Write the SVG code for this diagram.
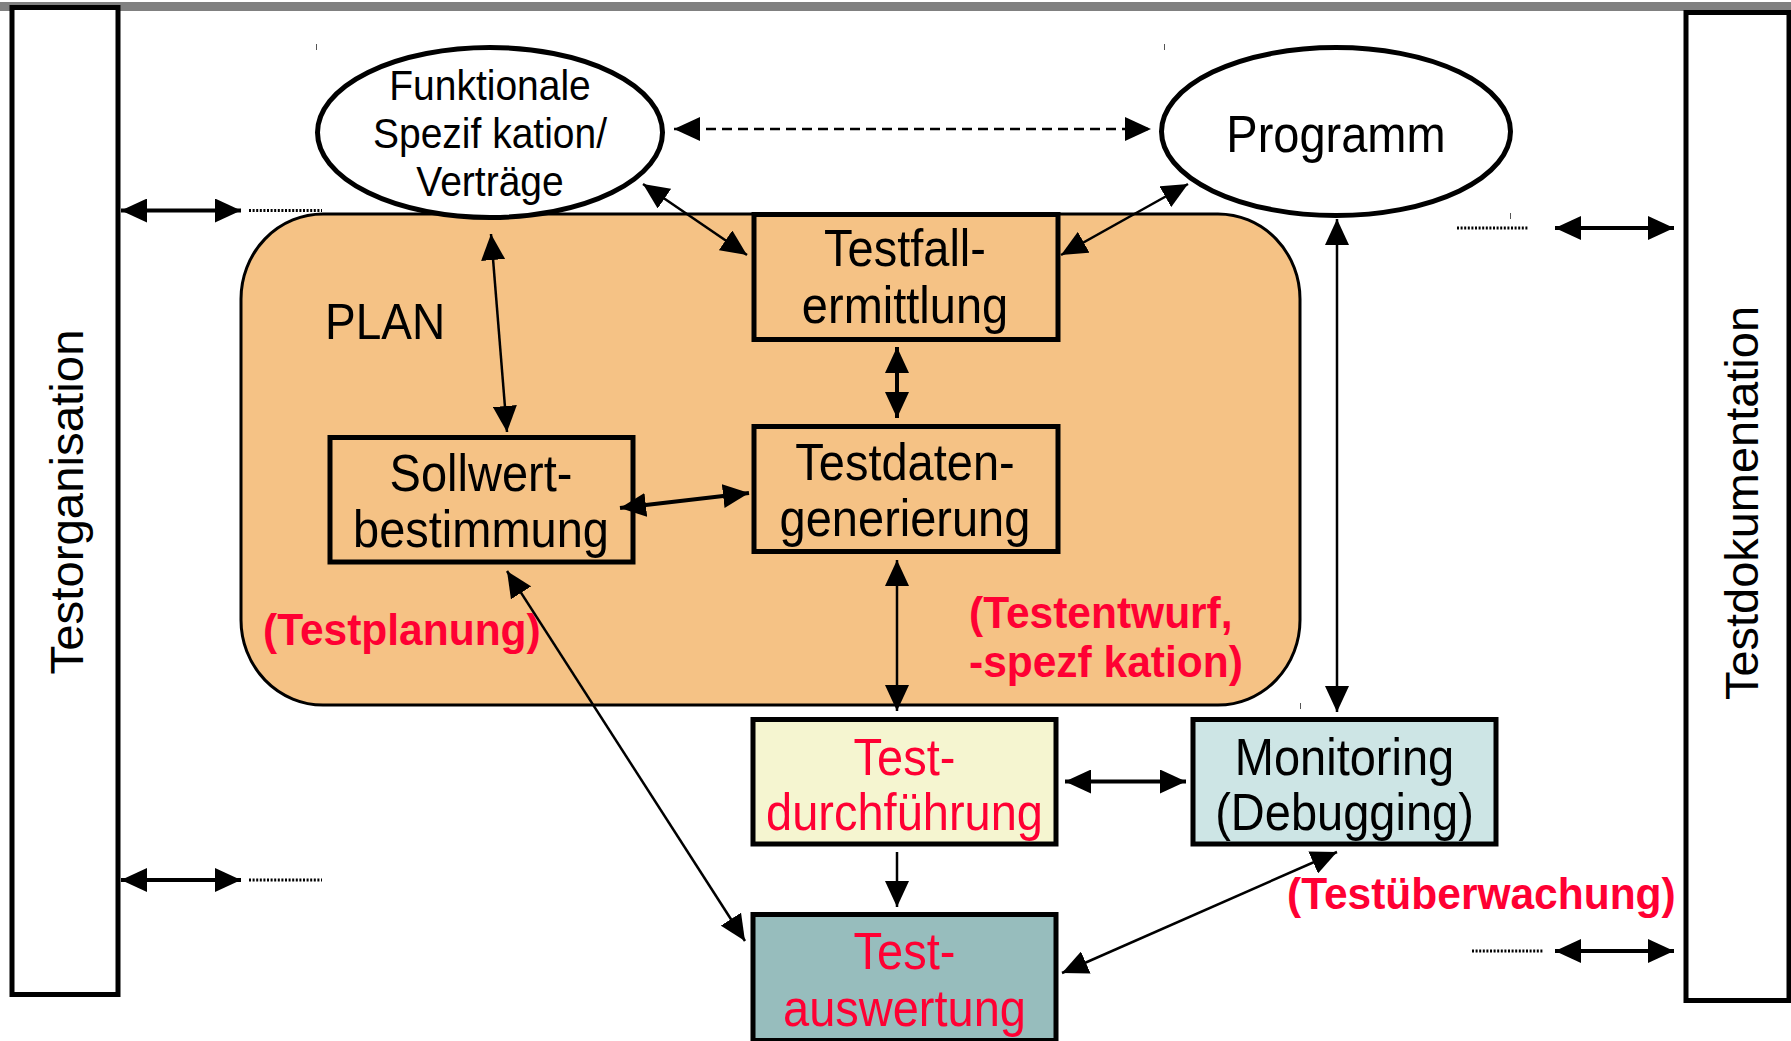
<svg xmlns="http://www.w3.org/2000/svg" width="1791" height="1041" viewBox="0 0 1791 1041">
  <style>
    text { font-family: "Liberation Sans", Arial, sans-serif; }
    .lbl { font-size: 47px; fill: #000; text-anchor: middle; }
    .ell { font-size: 39px; fill: #000; text-anchor: middle; }
    .red { fill: #FF0033; }
    .phase { font-size: 42.5px; font-weight: bold; fill: #FF0033; }
    .side { font-size: 46px; fill: #000; text-anchor: middle; }
    .box { stroke: #000; stroke-width: 5; }
    .conn { fill: none; stroke: #000; stroke-width: 2.5; }
    .thick { stroke-width: 4; }
    .dots { fill: none; stroke: #000; stroke-width: 3; stroke-dasharray: 2 1.6; }
  </style>
  <defs>
    <marker id="ah" viewBox="0 0 26 24" refX="26" refY="12" markerWidth="26" markerHeight="24" markerUnits="userSpaceOnUse" orient="auto-start-reverse">
      <path d="M0,0 L26,12 L0,24 z" fill="#000"/>
    </marker>
  </defs>

  <rect x="0" y="0" width="1791" height="1041" fill="#fff"/>
  <!-- top rule -->
  <rect x="0" y="2" width="1791" height="9" fill="#808080"/>

  <!-- side panels -->
  <g id="testorganisation">
    <rect class="box" x="12" y="7.5" width="106" height="987" fill="#fff"/>
    <text class="side" transform="translate(83,502) rotate(-90)" textLength="345" lengthAdjust="spacingAndGlyphs">Testorganisation</text>
  </g>
  <g id="testdokumentation">
    <rect class="box" x="1686" y="12.5" width="103" height="988" fill="#fff"/>
    <text class="side" transform="translate(1758,503) rotate(-90)" textLength="394" lengthAdjust="spacingAndGlyphs">Testdokumentation</text>
  </g>

  <!-- planning area -->
  <g id="plan">
    <rect x="241" y="214" width="1059" height="491" rx="82" ry="85" fill="#F5C285" stroke="#000" stroke-width="3"/>
    <text transform="translate(325,339) scale(1,1.1)" style="font-size:46px">PLAN</text>
  </g>

  <!-- inputs -->
  <g id="spezifikation">
    <ellipse cx="490" cy="132.5" rx="172.5" ry="85" fill="#fff" stroke="#000" stroke-width="5"/>
    <text class="ell" transform="translate(490,100) scale(1,1.1)">Funktionale</text>
    <text class="ell" transform="translate(490,148) scale(1,1.1)">Spezif kation/</text>
    <text class="ell" transform="translate(490,196) scale(1,1.1)">Verträge</text>
  </g>
  <g id="programm">
    <ellipse cx="1336" cy="131.5" rx="174.5" ry="84" fill="#fff" stroke="#000" stroke-width="5"/>
    <text class="lbl" transform="translate(1336,152) scale(1,1.1)">Programm</text>
  </g>

  <!-- activities -->
  <g id="testfallermittlung">
    <rect class="box" x="754" y="214.5" width="304" height="125" fill="none"/>
    <text class="lbl" transform="translate(905,266) scale(1,1.1)">Testfall-</text>
    <text class="lbl" transform="translate(905,323) scale(1,1.1)">ermittlung</text>
  </g>
  <g id="testdatengenerierung">
    <rect class="box" x="754" y="426.5" width="304" height="125" fill="none"/>
    <text class="lbl" transform="translate(905,480) scale(1,1.1)">Testdaten-</text>
    <text class="lbl" transform="translate(905,536) scale(1,1.1)">generierung</text>
  </g>
  <g id="sollwertbestimmung">
    <rect class="box" x="330" y="437.5" width="303" height="124.5" fill="none"/>
    <text class="lbl" transform="translate(481,491) scale(1,1.1)">Sollwert-</text>
    <text class="lbl" transform="translate(481,547) scale(1,1.1)">bestimmung</text>
  </g>
  <g id="testdurchfuehrung">
    <rect class="box" x="753" y="719.5" width="303" height="124.5" fill="#F5F5D0"/>
    <text class="lbl red" transform="translate(904.5,774.5) scale(1,1.1)">Test-</text>
    <text class="lbl red" transform="translate(904.5,830) scale(1,1.1)">durchführung</text>
  </g>
  <g id="monitoring">
    <rect class="box" x="1193" y="719.5" width="303" height="124.5" fill="#CDE5E5"/>
    <text class="lbl" transform="translate(1344.5,774.5) scale(1,1.1)">Monitoring</text>
    <text class="lbl" transform="translate(1344.5,830) scale(1,1.1)">(Debugging)</text>
  </g>
  <g id="testauswertung">
    <rect class="box" x="753" y="914.5" width="303" height="126" fill="#97BDBD"/>
    <text class="lbl red" transform="translate(904.5,968.5) scale(1,1.1)">Test-</text>
    <text class="lbl red" transform="translate(904.5,1025.5) scale(1,1.1)">auswertung</text>
  </g>

  <!-- phase labels -->
  <g id="phases">
    <text class="phase" transform="translate(263,645) scale(1,1.05)">(Testplanung)</text>
    <text class="phase" transform="translate(969,628) scale(1,1.05)">(Testentwurf,</text>
    <text class="phase" transform="translate(969,677) scale(1,1.05)">-spezf kation)</text>
    <text class="phase" transform="translate(1287,909) scale(1,1.05)">(Testüberwachung)</text>
  </g>

  <!-- connectors -->
  <g id="connectors">
    <line class="conn" x1="674" y1="129" x2="1151" y2="129" stroke-dasharray="10 6" marker-start="url(#ah)" marker-end="url(#ah)"/>
    <line class="conn" x1="491" y1="234" x2="507" y2="432" marker-start="url(#ah)" marker-end="url(#ah)"/>
    <line class="conn" x1="643" y1="184" x2="747" y2="255" marker-start="url(#ah)" marker-end="url(#ah)"/>
    <line class="conn" x1="1188" y1="184" x2="1061" y2="255" marker-start="url(#ah)" marker-end="url(#ah)"/>
    <line class="conn thick" x1="897" y1="347" x2="897" y2="418" marker-start="url(#ah)" marker-end="url(#ah)"/>
    <line class="conn thick" x1="620" y1="508" x2="749" y2="493" marker-start="url(#ah)" marker-end="url(#ah)"/>
    <line class="conn" x1="897" y1="560" x2="897" y2="711" marker-start="url(#ah)" marker-end="url(#ah)"/>
    <line class="conn" x1="1337" y1="219" x2="1337" y2="712" marker-start="url(#ah)" marker-end="url(#ah)"/>
    <line class="conn thick" x1="1065" y1="781.5" x2="1186" y2="781.5" marker-start="url(#ah)" marker-end="url(#ah)"/>
    <line class="conn" x1="897" y1="852" x2="897" y2="907" marker-end="url(#ah)"/>
    <line class="conn" x1="507" y1="571" x2="745" y2="941" marker-start="url(#ah)" marker-end="url(#ah)"/>
    <line class="conn" x1="1337" y1="852" x2="1062" y2="973" marker-start="url(#ah)" marker-end="url(#ah)"/>

    <!-- links to the side panels -->
    <line class="conn thick" x1="121" y1="210.5" x2="241" y2="210.5" marker-start="url(#ah)" marker-end="url(#ah)"/>
    <line class="dots" x1="249" y1="210.5" x2="322" y2="210.5"/>
    <line class="conn thick" x1="121" y1="880" x2="241" y2="880" marker-start="url(#ah)" marker-end="url(#ah)"/>
    <line class="dots" x1="249" y1="880" x2="322" y2="880"/>
    <line class="conn thick" x1="1555" y1="228" x2="1674" y2="228" marker-start="url(#ah)" marker-end="url(#ah)"/>
    <line class="dots" x1="1457" y1="228" x2="1528" y2="228"/>
    <line class="conn thick" x1="1555" y1="951" x2="1674" y2="951" marker-start="url(#ah)" marker-end="url(#ah)"/>
    <line class="dots" x1="1472" y1="951" x2="1544" y2="951"/>
  </g>

  <!-- small corner ticks -->
  <g stroke="#555" stroke-width="1">
    <line x1="316.5" y1="44" x2="316.5" y2="50"/>
    <line x1="1164.5" y1="44" x2="1164.5" y2="50"/>
    <line x1="1510.5" y1="213" x2="1510.5" y2="219"/>
    <line x1="1300.5" y1="703" x2="1300.5" y2="709"/>
  </g>
</svg>
